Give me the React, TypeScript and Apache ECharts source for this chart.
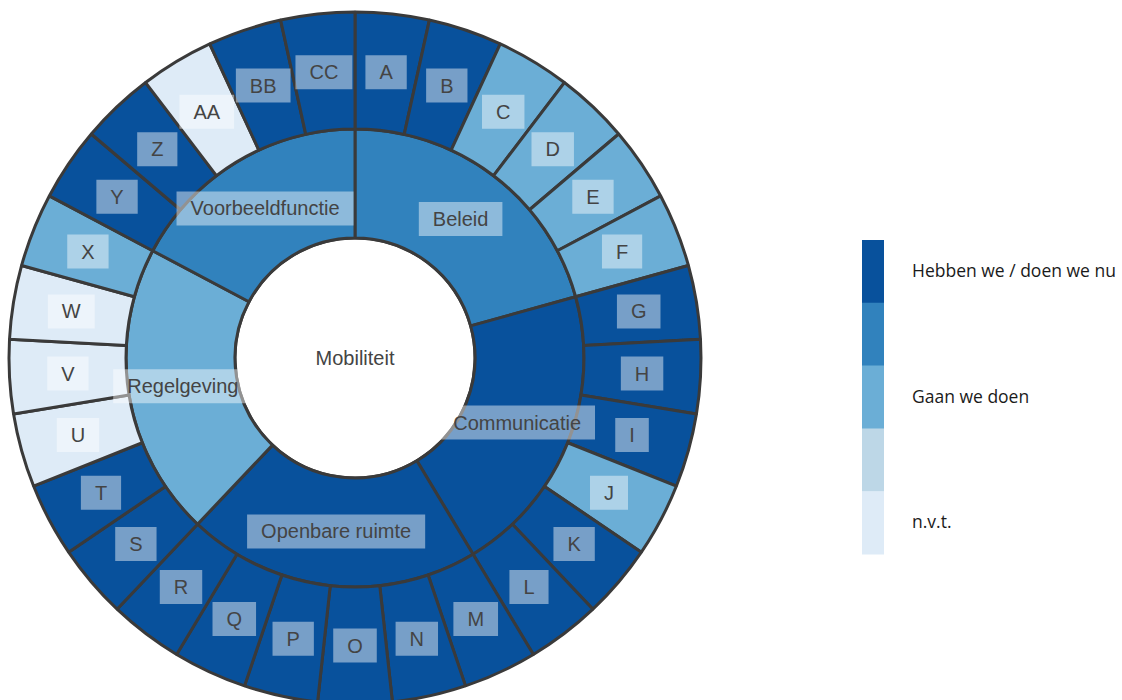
import React, { useEffect, useRef } from 'react';
import * as echarts from 'echarts';

// ---- data ----
const rootName = 'Mobiliteit';
const categories = ['Beleid', 'Communicatie', 'Openbare ruimte', 'Regelgeving', 'Voorbeeldfunctie'];
const categorySizes = [6, 6, 6, 6, 5];
// 1 = darkest ... 5 = lightest
const categoryLevels = [2, 1, 1, 3, 2];
const letters = ['A', 'B', 'C', 'D', 'E', 'F', 'G', 'H', 'I', 'J', 'K', 'L', 'M', 'N', 'O', 'P', 'Q', 'R', 'S', 'T', 'U', 'V', 'W', 'X', 'Y', 'Z', 'AA', 'BB', 'CC'];
const letterLevels = [1, 1, 3, 3, 3, 3, 1, 1, 1, 3, 1, 1, 1, 1, 1, 1, 1, 1, 1, 1, 5, 5, 5, 3, 1, 1, 5, 1, 1];
const letterValues = [1, 1, 1, 1, 1, 1, 1, 1, 1, 1, 1, 1, 1, 1, 1, 1, 1, 1, 1, 1, 1, 1, 1, 1, 1, 1, 1, 1, 1];
const levelColors = ['#08519c', '#3182bd', '#6baed6', '#bdd7e7', '#deebf7'];
const legendLabels = ['Hebben we / doen we nu', '', 'Gaan we doen', '', 'n.v.t.'];

function buildData() {
  let idx = 0;
  const children = categories.map((c, i) => {
    const kids: any[] = [];
    for (let k = 0; k < categorySizes[i]; k++) {
      kids.push({
        name: letters[idx],
        value: letterValues[idx],
        itemStyle: { color: levelColors[letterLevels[idx] - 1] },
      });
      idx++;
    }
    return { name: c, itemStyle: { color: levelColors[categoryLevels[i] - 1] }, children: kids };
  });
  return [{ name: rootName, itemStyle: { color: '#ffffff' }, children }];
}

export default function App() {
  const ref = useRef<HTMLDivElement>(null);
  useEffect(() => {
    if (!ref.current) return;
    const chart = echarts.init(ref.current, undefined, { renderer: 'svg' });
    const barX = 862;
    const barY = 240;
    const segH = 62.8;
    const legendEls: any[] = [];
    levelColors.forEach((col, i) => {
      legendEls.push({
        type: 'rect',
        shape: { x: barX, y: barY + i * segH, width: 22, height: segH + 0.5 },
        style: { fill: col },
        silent: true,
      });
      if (legendLabels[i]) {
        legendEls.push({
          type: 'text',
          x: 912,
          y: barY + i * segH + segH / 2 - 1.5,
          style: {
            text: legendLabels[i],
            fill: '#1a1a1a',
            font: '17.5px "Open Sans", sans-serif',
            textVerticalAlign: 'middle',
            textAlign: 'left',
          },
          silent: true,
        });
      }
    });
    chart.setOption({
      animation: false,
      backgroundColor: '#ffffff',
      graphic: legendEls,
      series: [
        {
          type: 'sunburst',
          center: [355, 358],
          radius: [0, 346],
          sort: null,
          startAngle: 90,
          clockwise: true,
          nodeClick: false,
          emphasis: { disabled: true },
          data: buildData(),
          itemStyle: { borderColor: '#3a3a3a', borderWidth: 3 },
          label: {
            rotate: 0,
            color: '#444',
            fontFamily: '"Liberation Sans", Arial, sans-serif',
            fontSize: 20,
            lineHeight: 20,
            backgroundColor: 'rgba(255,255,255,0.45)',
            padding: [7, 14],
          },
          levels: [
            {},
            { r0: 0, r: 120, label: { backgroundColor: 'transparent', padding: 0 } },
            { r0: 120, r: 229 },
            { r0: 229, r: 346 },
          ],
        },
      ],
    });
    return () => chart.dispose();
  }, []);
  return (
    <div
      ref={ref}
      style={{ position: 'absolute', left: 0, top: 0, width: 1122, height: 700 }}
    />
  );
}
